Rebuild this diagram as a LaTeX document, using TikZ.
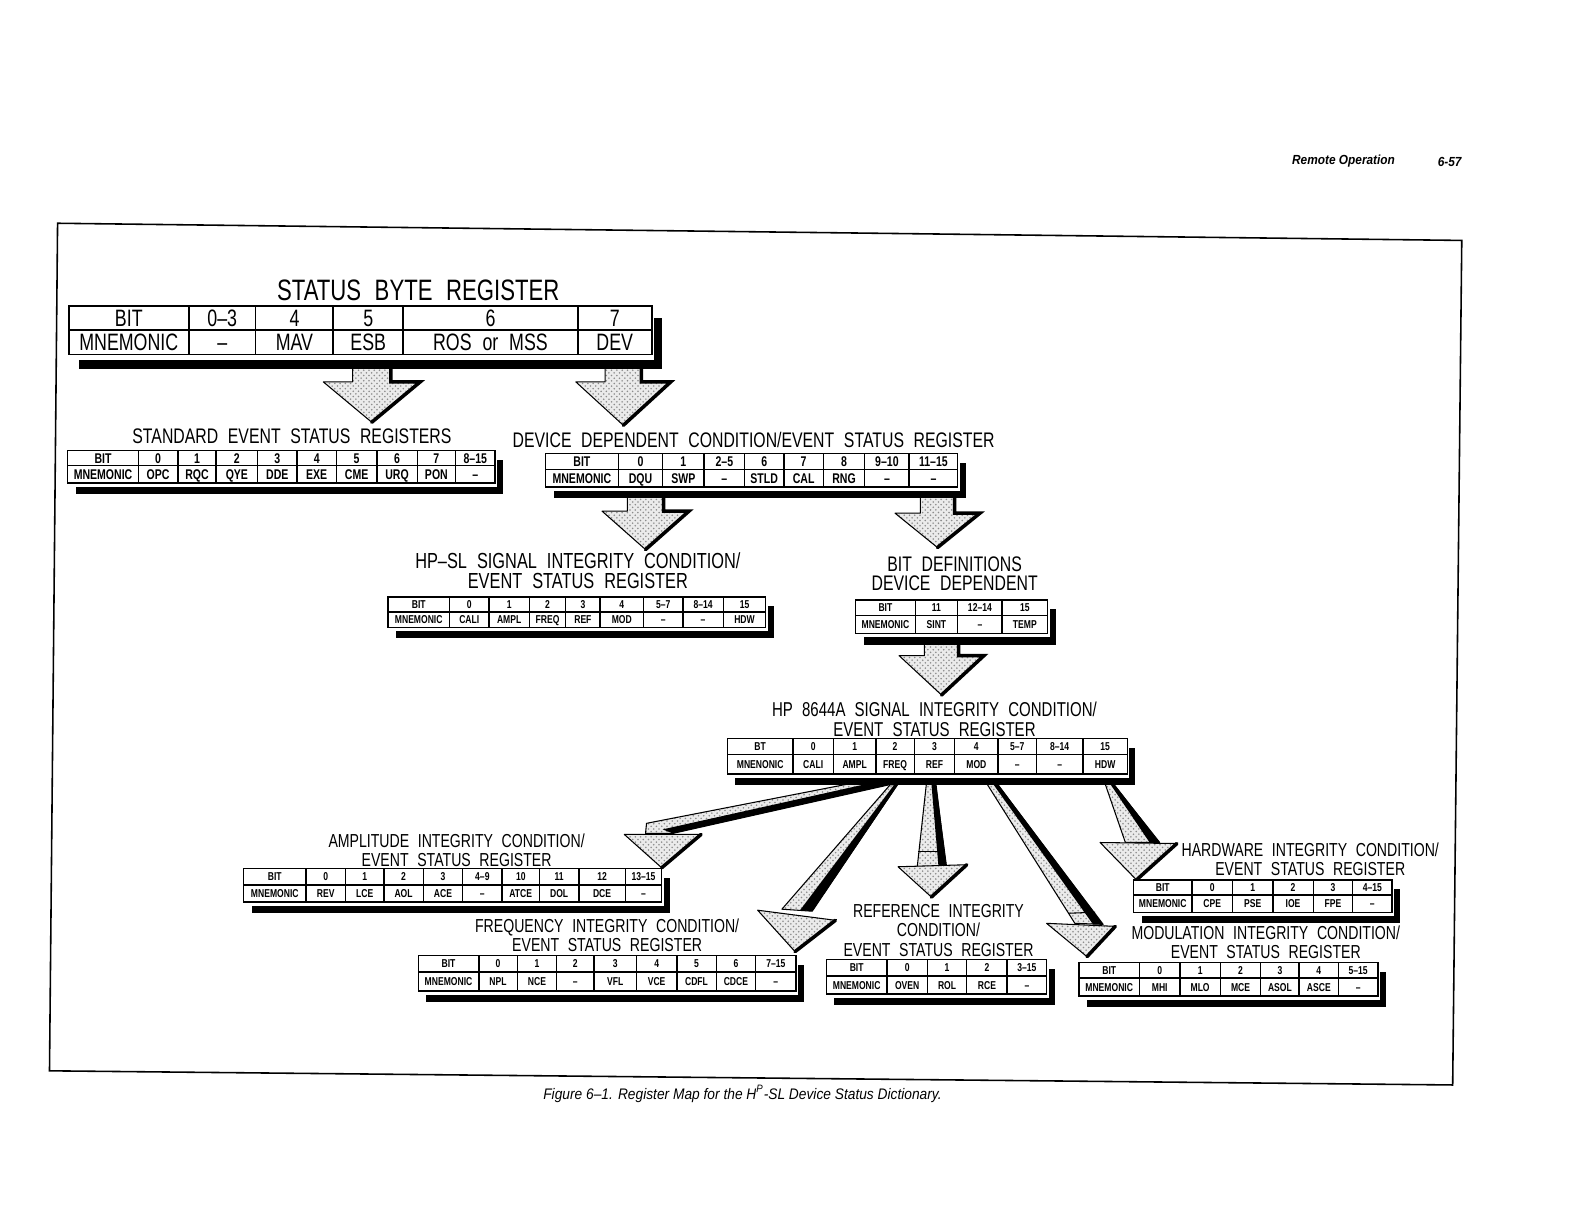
\documentclass[tikz,border=0pt]{standalone}
\usepackage{fontspec}
\setmainfont{Liberation Sans}
\newfontfamily\cf[FakeStretch=0.75,WordSpace=2.2]{Liberation Sans}
\newfontfamily\hf[FakeStretch=0.9]{Liberation Sans}
\usetikzlibrary{calc,fit,patterns}

\tikzset{
 ttl/.style={font=\cf\fontsize{12}{10.9}\selectfont, inner sep=0pt, align=center},
 ttls/.style={font=\cf\fontsize{10.7}{10.9}\selectfont, inner sep=0pt, align=center},
 sbttl/.style={font=\cf\fontsize{16.8}{18}\selectfont, inner sep=0pt},
 sbcell/.style={font=\cf\fontsize{13.5}{14}\selectfont, inner sep=0pt, text height=9.7pt, text depth=0pt},
 mcell/.style={font=\cf\bfseries\fontsize{8}{9}\selectfont, inner sep=0pt, text height=5.75pt, text depth=0pt},
 scell/.style={font=\cf\bfseries\fontsize{6.5}{7}\selectfont, inner sep=0pt, text height=4.65pt, text depth=0pt},
 arrowfill/.style={preaction={fill=black!8}, pattern=crosshatch dots, pattern color=black!45, draw=black, line width=0.6pt, line join=round},
 darkedge/.style={line width=2pt, line cap=round},
}

% #1 name, #2 left, #3 right, #4 top, #5 mid, #6 bottom, #7 cell style, #8 shadow scale, #9 entries
\newcommand\regtab[9]{%
  \node[inner sep=0pt, fit={(#2,#4) (#3,#6)}] (#1) {};
  \fill ({#3+2*#8},{#4+9*#8}) rectangle ({#3+8*#8},{#6+11*#8});
  \fill ({#2+8*#8},{#6+4*#8}) rectangle ({#3+8*#8},{#6+11*#8});
  \fill[white] (#2,#4) rectangle (#3,#6);
  \draw[line width={0.8pt*#8}] (#2,#4) rectangle (#3,#6);
  \draw[line width={0.8pt*#8}] (#2,#5) -- (#3,#5);
  \foreach \xa/\xb/\bt/\mn [count=\k] in {#9}{%
    \draw[line width={0.8pt*#8}] (\xa,#4) -- (\xa,#6);
    \node[#7] (#1-b\k) at ({(\xa+\xb)/2},{(#4+#5)/2}) {\bt};
    \node[#7] (#1-m\k) at ({(\xa+\xb)/2},{(#5+#6)/2}) {\mn};
  }%
}

% straight down arrow: #1 name, #2 cx, #3 top, #4 base, #5 tip, #6 shaft hw, #7 head hw
\newcommand\bigarr[7]{%
  \coordinate (#1) at (#2,#5);
  \draw[arrowfill] ({#2-#6},#3) -- ({#2+#6},#3) -- ({#2+#6},#4) -- ({#2+#7},#4) -- (#2,#5) -- ({#2-#7},#4) -- ({#2-#6},#4) -- cycle;
  \draw[darkedge] ({#2+#6},#3) -- ({#2+#6},#4) -- ({#2+#7},#4) -- (#2,#5);
}

\begin{document}
\begin{tikzpicture}[x=0.0202cm,y=-0.0202cm]
\useasboundingbox (0,0) rectangle (1568,1212);
\fill[white] (0,0) rectangle (1568,1212);

% header and frame
\node[font=\hf\bfseries\itshape\fontsize{7.5}{9}\selectfont, inner sep=0pt] (hdr) at (1330,159) {Remote Operation};
\node[font=\hf\bfseries\itshape\fontsize{7.5}{9}\selectfont, inner sep=0pt] (pg) at (1435,160) {6-57};
\draw[line width=0.9pt] (57,221) -- (1447,238) -- (1438,1074) -- (49,1060) -- cycle;
\node[font=\hf\itshape\fontsize{8.7}{9}\selectfont, inner sep=0pt] (cap) at (735,1083) {Figure 6–1. Register Map for the H\textsuperscript{P}-SL Device Status Dictionary.};

% arrows (drawn first, tables overlay)
\bigarr{a1}{368}{360}{378}{418}{19}{48}
\bigarr{a2}{617}{360}{378}{421}{18}{47}
\bigarr{a3}{639}{490}{506}{544}{18}{43}
\bigarr{a4}{928}{490}{508}{542}{17}{42}
\bigarr{a5}{932}{634}{649}{688}{17}{42}

% fan arrows from HP 8644A register
% to amplitude
\draw[arrowfill] (840,776) -- (884,776) -- (666,825) -- (639,825) -- (640,815) -- cycle;
\fill (858,776) -- (884,776) -- (666,825) -- (656,821) -- cycle;
\draw[arrowfill] (618,826) -- (694,826) -- (655,859) -- cycle;
\draw[darkedge] (694,826) -- (655,859);
% to frequency
\draw[arrowfill] (881,777) -- (888,777) -- (804,902) -- (774,900) -- cycle;
\fill (885,777) -- (889,777) -- (804,902) -- (792,901) -- cycle;
\draw[arrowfill] (750,901) -- (827,911) -- (787,942) -- cycle;
\draw[darkedge] (827,911) -- (787,942);
% to reference
\draw[arrowfill] (917,776) -- (926,776) -- (937,858) -- (908,858) -- cycle;
\fill (922,776) -- (927,776) -- (937,858) -- (929,858) -- cycle;
\draw[line width=0.6pt] (909,843) -- (935,843);
\draw[arrowfill] (889,858) -- (957,856) -- (922,888) -- cycle;
\draw[darkedge] (957,856) -- (922,888);
% to modulation
\draw[arrowfill] (977,776) -- (987,776) -- (1092,915) -- (1064,914) -- cycle;
\fill (983,776) -- (988,776) -- (1092,915) -- (1082,915) -- cycle;
\draw[line width=0.6pt] (1058,904) -- (1084,903);
\draw[arrowfill] (1036,914) -- (1104,917) -- (1076,947) -- cycle;
\draw[darkedge] (1104,917) -- (1076,947);
% to hardware
\draw[arrowfill] (1094,776) -- (1102,776) -- (1148,834) -- (1114,834) -- cycle;
\fill (1099,776) -- (1103,776) -- (1148,834) -- (1138,834) -- cycle;
\draw[arrowfill] (1089,834) -- (1165,835) -- (1125,871) -- cycle;
\draw[darkedge] (1165,835) -- (1125,871);

% STATUS BYTE REGISTER
\node[sbttl] (sbt) at (414,287) {STATUS BYTE REGISTER};
\regtab{sb}{68}{645}{303}{327}{351}{sbcell}{1.3}{68/187/BIT/MNEMONIC, 187/253/0–3/–, 253/330/4/MAV, 330/399/5/ESB, 399/572/6/ROS or MSS, 572/645/7/DEV}

% STANDARD EVENT STATUS REGISTERS
\node[ttl] (sest) at (289,432) {STANDARD EVENT STATUS REGISTERS};
\regtab{ses}{67}{490}{446}{461}{478}{mcell}{1}{67/137/BIT/MNEMONIC, 137/176/0/OPC, 176/214/1/RQC, 214/255/2/QYE, 255/294/3/DDE, 294/333/4/EXE, 333/373/5/CME, 373/413/6/URQ, 413/451/7/PON, 451/490/8–15/–}

% DEVICE DEPENDENT
\node[ttl] (ddt) at (746,436) {DEVICE DEPENDENT CONDITION/EVENT STATUS REGISTER};
\regtab{dd}{540}{948}{449}{465}{482}{mcell}{1}{540/612/BIT/MNEMONIC, 612/656/0/DQU, 656/697/1/SWP, 697/737/2–5/–, 737/776/6/STLD, 776/815/7/CAL, 815/856/8/RNG, 856/900/9–10/–, 900/948/11–15/–}

% HP-SL SIGNAL INTEGRITY
\node[ttl, font=\cf\fontsize{12.4}{10.9}\selectfont] (hpslt) at (572,565) {HP–SL SIGNAL INTEGRITY CONDITION/\\EVENT STATUS REGISTER};
\regtab{hpsl}{384}{758}{591}{606}{621}{scell}{1}{384/445/BIT/MNEMONIC, 445/484/0/CALI, 484/524/1/AMPL, 524/560/2/FREQ, 560/594/3/REF, 594/637/4/MOD, 637/676/5–7/–, 676/716/8–14/–, 716/758/15/HDW}

% BIT DEFINITIONS
\node[ttl] (bdt) at (945,568) {BIT DEFINITIONS\\DEVICE DEPENDENT};
\regtab{bd}{847}{1037}{594}{609}{627}{scell}{1}{847/906/BIT/MNEMONIC, 906/948/11/SINT, 948/992/12–14/–, 992/1037/15/TEMP}

% HP 8644A
\node[ttl, font=\cf\fontsize{11.4}{10.9}\selectfont] (h8t) at (925,712) {HP 8644A SIGNAL INTEGRITY CONDITION/\\EVENT STATUS REGISTER};
\regtab{h8}{720}{1116}{731}{747}{766}{scell}{1}{720/785/BT/MNENONIC, 785/825/0/CALI, 825/867/1/AMPL, 867/905/2/FREQ, 905/945/3/REF, 945/988/4/MOD, 988/1026/5–7/–, 1026/1072/8–14/–, 1072/1116/15/HDW}

% AMPLITUDE
\node[ttls] (ampt) at (452,842) {AMPLITUDE INTEGRITY CONDITION/\\EVENT STATUS REGISTER};
\regtab{amp}{241}{655}{860}{876}{893}{scell}{1}{241/303/BIT/MNEMONIC, 303/342/0/REV, 342/380/1/LCE, 380/419/2/AOL, 419/458/3/ACE, 458/497/4–9/–, 497/534/10/ATCE, 534/573/11/DOL, 573/619/12/DCE, 619/655/13–15/–}

% FREQUENCY
\node[ttls] (frqt) at (601,926) {FREQUENCY INTEGRITY CONDITION/\\EVENT STATUS REGISTER};
\regtab{frq}{414}{788}{946}{962}{981}{scell}{1}{414/474/BIT/MNEMONIC, 474/512/0/NPL, 512/551/1/NCE, 551/588/2/–, 588/630/3/VFL, 630/670/4/VCE, 670/709/5/CDFL, 709/748/6/CDCE, 748/788/7–15/–}

% REFERENCE
\node[ttls] (reft) at (929,921) {REFERENCE INTEGRITY\\CONDITION/\\EVENT STATUS REGISTER};
\regtab{ref}{818}{1036}{950}{966}{984}{scell}{1}{818/878/BIT/MNEMONIC, 878/918/0/OVEN, 918/957/1/ROL, 957/997/2/RCE, 997/1036/3–15/–}

% HARDWARE
\node[ttls] (hwt) at (1297,851) {HARDWARE INTEGRITY CONDITION/\\EVENT STATUS REGISTER};
\regtab{hw}{1122}{1378}{871}{886}{903}{scell}{1}{1122/1180/BIT/MNEMONIC, 1180/1220/0/CPE, 1220/1260/1/PSE, 1260/1300/2/IOE, 1300/1339/3/FPE, 1339/1378/4–15/–}

% MODULATION
\node[ttls] (modt) at (1253,933) {MODULATION INTEGRITY CONDITION/\\EVENT STATUS REGISTER};
\regtab{mod}{1068}{1364}{953}{968}{986}{scell}{1}{1068/1128/BIT/MNEMONIC, 1128/1168/0/MHI, 1168/1208/1/MLO, 1208/1248/2/MCE, 1248/1286/3/ASOL, 1286/1325/4/ASCE, 1325/1364/5–15/–}
\end{tikzpicture}
\end{document}
